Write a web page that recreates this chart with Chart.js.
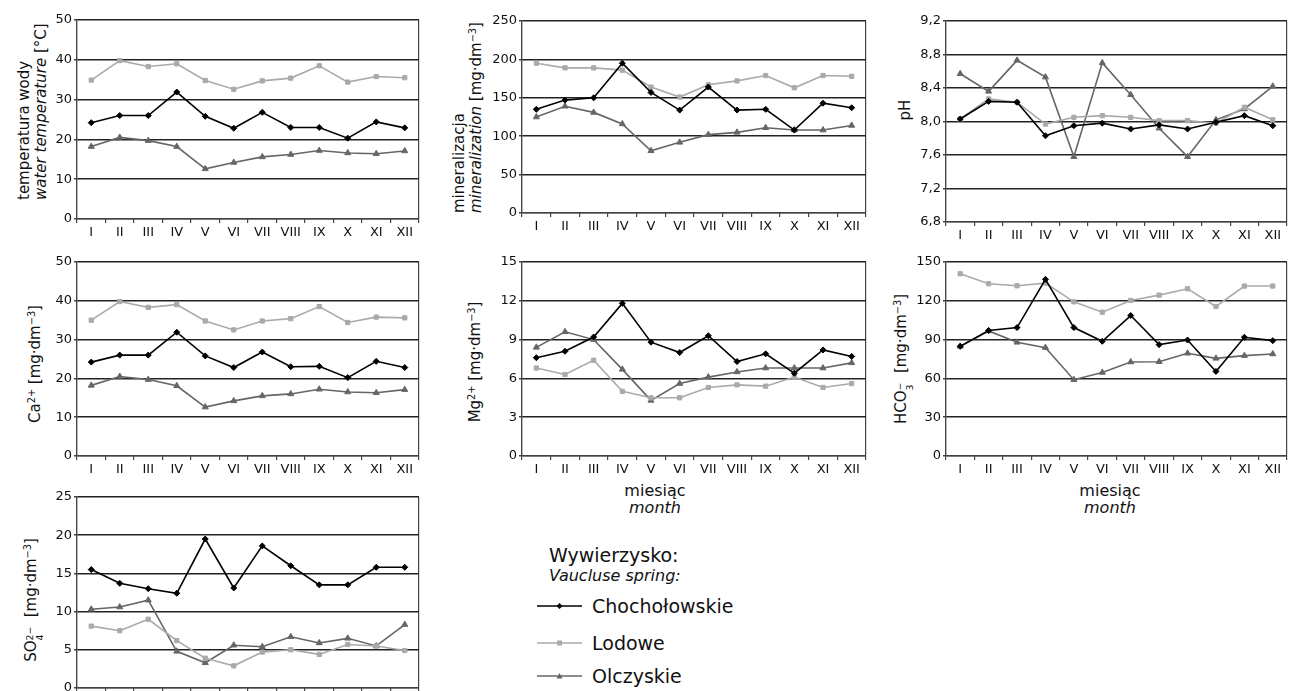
<!DOCTYPE html>
<html>
<head>
<meta charset="utf-8">
<script src="https://cdn.jsdelivr.net/npm/chart.js@4"></script>
<style>
html, body { margin:0; padding:0; overflow:hidden; background:#fff; width:1291px; height:691px; }
body { position:relative; font-family:"DejaVu Sans", sans-serif; color:#111; }
.box { position:absolute; }
.yt { position:absolute; white-space:nowrap; font-size:15px; line-height:17px; transform-origin:0 0; transform:rotate(-90deg); }
.yt sup { font-size:0.65em; line-height:0; vertical-align:0.5em; }
.ytc { position:absolute; white-space:nowrap; font-size:15px; transform:translate(-50%,-50%) rotate(-90deg); }
.ytc sup { font-size:0.65em; line-height:0; vertical-align:0.5em; }
.ss { display:inline-flex; flex-direction:column; font-size:0.62em; line-height:1; vertical-align:0.3em; text-align:left; }
.xt { position:absolute; white-space:nowrap; font-size:16px; transform:translate(-50%,-50%); }
.lg { position:absolute; white-space:nowrap; }
.lg svg { position:absolute; left:-57px; top:50%; margin-top:-6px; }
</style>
</head>
<body>

<!-- axis titles -->
<div class="yt" style="left:16px; top:200px;">temperatura wody<br><i>water temperature</i> [°C]</div>
<div class="yt" style="left:451px; top:213px;">mineralizacja<br><i>mineralization</i> [mg·dm<sup>−3</sup>]</div>
<div class="ytc" style="left:905px; top:110px;">pH</div>
<div class="ytc" style="left:35px; top:364px;">Ca<sup>2+</sup> [mg·dm<sup>−3</sup>]</div>
<div class="ytc" style="left:475px; top:362px;">Mg<sup>2+</sup> [mg·dm<sup>−3</sup>]</div>
<div class="ytc" style="left:903px; top:359px;">HCO<span class="ss"><span>−</span><span>3</span></span>&nbsp; [mg·dm<sup>−3</sup>]</div>
<div class="ytc" style="left:33px; top:600px;">SO<span class="ss"><span>2−</span><span>4</span></span>&nbsp; [mg·dm<sup>−3</sup>]</div>

<div class="xt" style="left:655px; top:490px;">miesiąc</div>
<div class="xt" style="left:655px; top:507px;"><i>month</i></div>
<div class="xt" style="left:1110px; top:490px;">miesiąc</div>
<div class="xt" style="left:1110px; top:507px;"><i>month</i></div>

<!-- legend -->
<div class="lg" style="left:549px; top:544px; font-size:19px;">Wywierzysko:</div>
<div class="lg" style="left:549px; top:566px; font-size:16px;"><i>Vaucluse spring:</i></div>
<div class="lg" style="left:592px; top:595px; font-size:19px;">
  <svg width="50" height="12"><line x1="2" y1="6" x2="47" y2="6" stroke="#000" stroke-width="1.5"/><polygon points="24.5,3 27.5,6 24.5,9 21.5,6" fill="#000"/></svg>Chochołowskie</div>
<div class="lg" style="left:592px; top:632px; font-size:19px;">
  <svg width="50" height="12"><line x1="2" y1="6" x2="47" y2="6" stroke="#aaa" stroke-width="1.5"/><rect x="22" y="3.5" width="5" height="5" fill="#aaa"/></svg>Lodowe</div>
<div class="lg" style="left:592px; top:665px; font-size:19px;">
  <svg width="50" height="12"><line x1="2" y1="6" x2="47" y2="6" stroke="#666" stroke-width="1.5"/><polygon points="24.5,3 27.5,8.5 21.5,8.5" fill="#666"/></svg>Olczyskie</div>

<script>
/* ---------- categories and ticks ---------- */
const months = ["I", "II", "III", "IV", "V", "VI", "VII", "VIII", "IX", "X", "XI", "XII"];

const tempTicks = [0, 10, 20, 30, 40, 50];
const minTicks = [0, 50, 100, 150, 200, 250];
const phTicks = [6.8, 7.2, 7.6, 8.0, 8.4, 8.8, 9.2];
const caTicks = [0, 10, 20, 30, 40, 50];
const mgTicks = [0, 3, 6, 9, 12, 15];
const hcoTicks = [0, 30, 60, 90, 120, 150];
const so4Ticks = [0, 5, 10, 15, 20, 25];

/* ---------- values ---------- */
// water temperature
const tempChoch = [24.2, 26.0, 26.0, 31.9, 25.8, 22.8, 26.8, 23.0, 23.0, 20.3, 24.4, 22.9];
const tempLod = [34.9, 39.8, 38.3, 39.0, 34.8, 32.6, 34.7, 35.4, 38.5, 34.4, 35.8, 35.5];
const tempOlcz = [18.2, 20.5, 19.7, 18.2, 12.6, 14.2, 15.6, 16.2, 17.2, 16.6, 16.4, 17.1];

// mineralization
const minChoch = [135, 147, 150, 195, 157, 134, 164, 134, 135, 108, 143, 137];
const minLod = [195, 189, 189, 186, 164, 151, 167, 172, 179, 163, 179, 178];
const minOlcz = [125, 139, 131, 116, 81, 92, 102, 105, 111, 108, 108, 114];

// pH
const phChoch = [8.03, 8.24, 8.23, 7.83, 7.95, 7.98, 7.91, 7.96, 7.91, 7.99, 8.07, 7.95];
const phLod = [8.03, 8.27, 8.23, 7.97, 8.05, 8.07, 8.05, 8.01, 8.01, 7.98, 8.17, 8.02];
const phOlcz = [8.57, 8.36, 8.73, 8.53, 7.58, 8.70, 8.32, 7.92, 7.58, 8.02, 8.15, 8.42];

// Ca2+
const caChoch = [24.2, 26.0, 26.0, 31.9, 25.8, 22.8, 26.8, 23.0, 23.1, 20.2, 24.4, 22.8];
const caLod = [35.0, 39.8, 38.3, 39.0, 34.8, 32.5, 34.8, 35.4, 38.5, 34.4, 35.8, 35.6];
const caOlcz = [18.2, 20.5, 19.7, 18.1, 12.6, 14.2, 15.5, 16.0, 17.2, 16.5, 16.3, 17.1];

// Mg2+
const mgChoch = [7.6, 8.1, 9.2, 11.8, 8.8, 8.0, 9.3, 7.3, 7.9, 6.4, 8.2, 7.7];
const mgLod = [6.8, 6.3, 7.4, 5.0, 4.5, 4.5, 5.3, 5.5, 5.4, 6.1, 5.3, 5.6];
const mgOlcz = [8.4, 9.6, 9.0, 6.7, 4.3, 5.6, 6.1, 6.5, 6.8, 6.8, 6.8, 7.2];

// HCO3-
const hcoChoch = [84.8, 97.0, 99.3, 136.6, 99.3, 88.7, 108.6, 86.1, 89.7, 65.4, 91.8, 89.2];
const hcoLod = [140.9, 133.2, 131.6, 133.7, 119.2, 111.2, 120.3, 124.4, 129.3, 115.6, 131.4, 131.4];
const hcoOlcz = [84.8, 96.7, 87.9, 83.8, 59.0, 64.6, 72.7, 72.9, 79.4, 75.5, 77.6, 78.9];

// SO4 2-
const so4Choch = [15.5, 13.7, 13.0, 12.4, 19.5, 13.1, 18.6, 16.0, 13.5, 13.5, 15.8, 15.8];
const so4Lod = [8.1, 7.5, 9.0, 6.2, 3.9, 2.9, 4.7, 5.0, 4.4, 5.7, 5.5, 4.9];
const so4Olcz = [10.3, 10.6, 11.5, 4.8, 3.3, 5.6, 5.4, 6.7, 5.9, 6.5, 5.5, 8.3];

/* ---------- series styles ---------- */
const STYLES = [
  { label: "Chochołowskie", color: "#000", point: "rectRot", r: 3 },
  { label: "Lodowe", color: "#aaa", point: "rect", r: 3 },
  { label: "Olczyskie", color: "#666", point: "triangle", r: 3.5 }
];

const FONT = { family: "'DejaVu Sans', sans-serif", size: 13 };
const YW = 40, PT = 10, PR = 2, XH = 28;

function plain(v) { return String(v); }
function comma(v) { return v.toFixed(1).replace(".", ","); }

/* ---------- one panel ---------- */
function panel(area, ticks, fmt, values) {
  const [pl, pt, pr, pb] = area;
  const w = pr - pl + YW + PR;
  const h = pb - pt + PT + XH;

  const wrap = document.createElement("div");
  wrap.className = "box";
  wrap.style.left = (pl - YW) + "px";
  wrap.style.top = (pt - PT) + "px";
  const cv = document.createElement("canvas");
  cv.width = w; cv.height = h;
  cv.style.width = w + "px"; cv.style.height = h + "px";
  wrap.appendChild(cv);
  document.body.appendChild(wrap);

  new Chart(cv, {
    type: "line",
    data: {
      labels: months,
      datasets: values.map((d, i) => ({
        label: STYLES[i].label,
        data: d,
        borderColor: STYLES[i].color,
        backgroundColor: STYLES[i].color,
        borderWidth: 1.6,
        pointStyle: STYLES[i].point,
        pointRadius: STYLES[i].r,
        pointBorderWidth: 1,
        pointBorderColor: STYLES[i].color,
        tension: 0
      }))
    },
    options: {
      responsive: false,
      animation: false,
      layout: { padding: { top: PT, right: PR, left: 0, bottom: 0 } },
      plugins: { legend: { display: false }, tooltip: { enabled: false } },
      scales: {
        x: {
          offset: true,
          afterFit: s => { s.height = XH; },
          grid: {
            offset: true,
            color: ctx => (ctx.type !== "tick" || ctx.index === 0) ? "#444" : "transparent",
            tickColor: "#444",
            tickLength: 4,
            lineWidth: 1.2
          },
          border: { color: "#444", width: 1.2 },
          ticks: { color: "#111", font: FONT, padding: 2, maxRotation: 0, autoSkip: false }
        },
        y: {
          min: ticks[0],
          max: ticks[ticks.length - 1],
          afterFit: s => { s.width = YW; },
          afterBuildTicks: s => { s.ticks = ticks.map(v => ({ value: v })); },
          grid: { color: "#222", lineWidth: 1.5, tickLength: 3, tickColor: "#444" },
          border: { color: "#444", width: 1.2 },
          ticks: { color: "#111", font: FONT, padding: 2, callback: v => fmt(v) }
        }
      }
    }
  });
}

panel([77, 20, 422, 219], tempTicks, plain, [tempChoch, tempLod, tempOlcz]);
panel([522, 21, 869, 213], minTicks, plain, [minChoch, minLod, minOlcz]);
panel([946, 21, 1290, 222], phTicks, comma, [phChoch, phLod, phOlcz]);
panel([77, 262, 422, 456], caTicks, plain, [caChoch, caLod, caOlcz]);
panel([522, 262, 869, 456], mgTicks, plain, [mgChoch, mgLod, mgOlcz]);
panel([946, 262, 1290, 456], hcoTicks, plain, [hcoChoch, hcoLod, hcoOlcz]);
panel([77, 497, 422, 688], so4Ticks, plain, [so4Choch, so4Lod, so4Olcz]);
</script>
</body>
</html>
